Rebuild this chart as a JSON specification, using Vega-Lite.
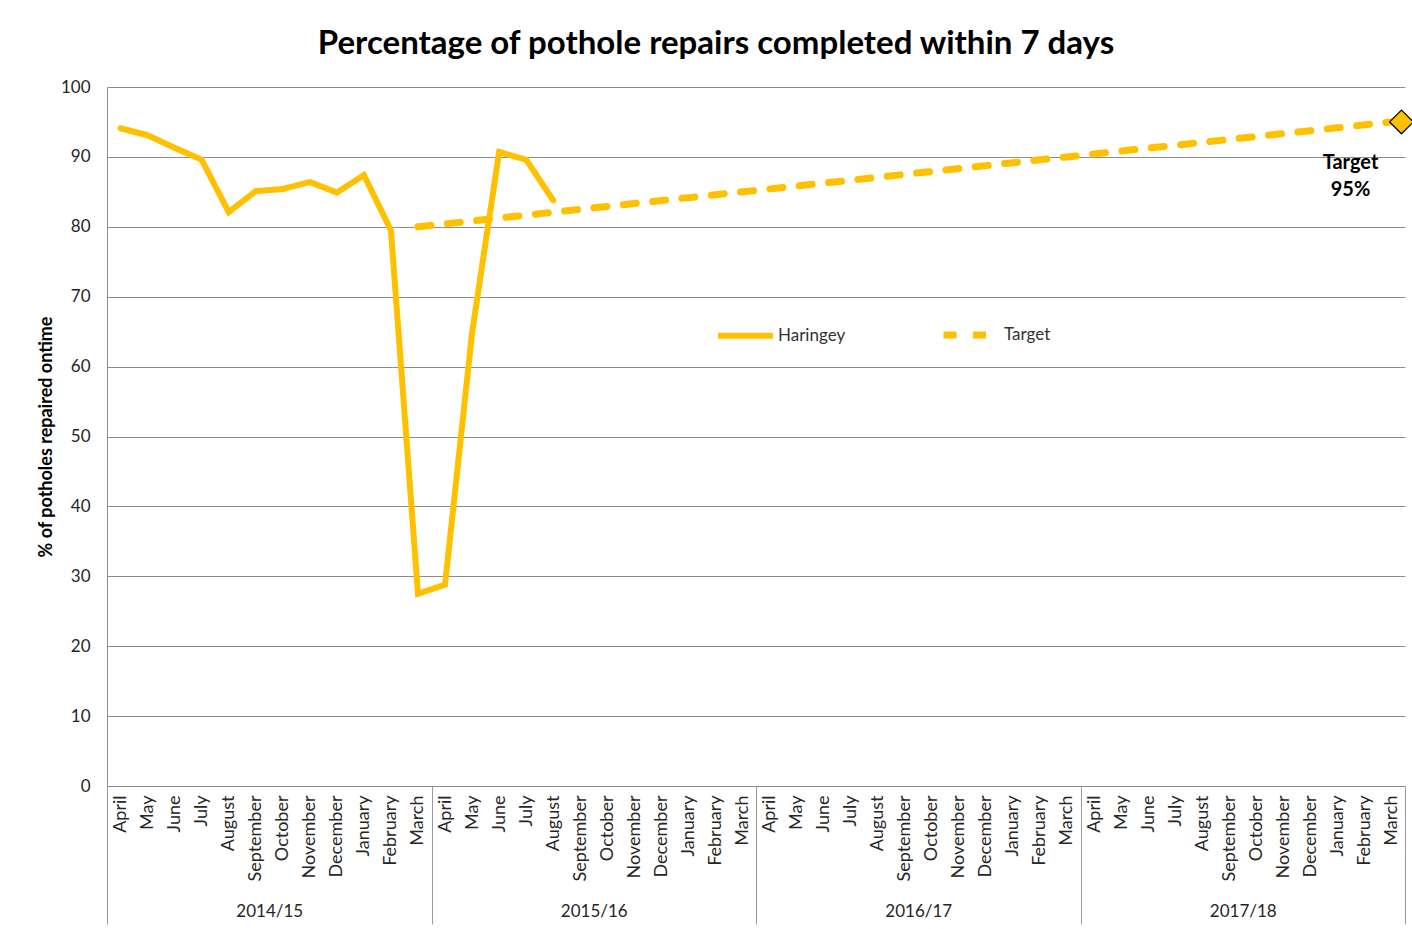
{
  "$schema": "https://vega.github.io/schema/vega-lite/v6.json",
  "width": 1298,
  "height": 699,
  "autosize": {"type": "none"},
  "padding": {"left": 107, "top": 87, "right": 7, "bottom": 143},
  "background": "white",
  "config": {"font": "Lato", "view": {"stroke": null}},
  "title": {
    "text": "Percentage of pothole repairs completed within 7 days",
    "fontSize": 33,
    "fontWeight": "bold",
    "color": "#000000",
    "anchor": "middle",
    "dx": -40,
    "offset": 17
  },
  "datasets": {
    "years": [
      {"year": "2014/15"}, {"year": "2015/16"}, {"year": "2016/17"}, {"year": "2017/18"}
    ],
    "main": [
      {"i": 0, "series": "Haringey", "value": 94.1},
      {"i": 1, "series": "Haringey", "value": 93.1},
      {"i": 2, "series": "Haringey", "value": 91.3},
      {"i": 3, "series": "Haringey", "value": 89.6},
      {"i": 4, "series": "Haringey", "value": 82.1},
      {"i": 5, "series": "Haringey", "value": 85.1},
      {"i": 6, "series": "Haringey", "value": 85.4},
      {"i": 7, "series": "Haringey", "value": 86.4},
      {"i": 8, "series": "Haringey", "value": 84.9},
      {"i": 9, "series": "Haringey", "value": 87.4},
      {"i": 10, "series": "Haringey", "value": 79.5},
      {"i": 11, "series": "Haringey", "value": 27.5},
      {"i": 12, "series": "Haringey", "value": 28.8},
      {"i": 13, "series": "Haringey", "value": 64.8},
      {"i": 14, "series": "Haringey", "value": 90.7},
      {"i": 15, "series": "Haringey", "value": 89.6},
      {"i": 16, "series": "Haringey", "value": 83.8},
      {"i": 11, "series": "Target", "value": 80},
      {"i": 12, "series": "Target", "value": 80.42},
      {"i": 13, "series": "Target", "value": 80.83},
      {"i": 14, "series": "Target", "value": 81.25},
      {"i": 15, "series": "Target", "value": 81.67},
      {"i": 16, "series": "Target", "value": 82.08},
      {"i": 17, "series": "Target", "value": 82.5},
      {"i": 18, "series": "Target", "value": 82.92},
      {"i": 19, "series": "Target", "value": 83.33},
      {"i": 20, "series": "Target", "value": 83.75},
      {"i": 21, "series": "Target", "value": 84.17},
      {"i": 22, "series": "Target", "value": 84.58},
      {"i": 23, "series": "Target", "value": 85},
      {"i": 24, "series": "Target", "value": 85.42},
      {"i": 25, "series": "Target", "value": 85.83},
      {"i": 26, "series": "Target", "value": 86.25},
      {"i": 27, "series": "Target", "value": 86.67},
      {"i": 28, "series": "Target", "value": 87.08},
      {"i": 29, "series": "Target", "value": 87.5},
      {"i": 30, "series": "Target", "value": 87.92},
      {"i": 31, "series": "Target", "value": 88.33},
      {"i": 32, "series": "Target", "value": 88.75},
      {"i": 33, "series": "Target", "value": 89.17},
      {"i": 34, "series": "Target", "value": 89.58},
      {"i": 35, "series": "Target", "value": 90},
      {"i": 36, "series": "Target", "value": 90.42},
      {"i": 37, "series": "Target", "value": 90.83},
      {"i": 38, "series": "Target", "value": 91.25},
      {"i": 39, "series": "Target", "value": 91.67},
      {"i": 40, "series": "Target", "value": 92.08},
      {"i": 41, "series": "Target", "value": 92.5},
      {"i": 42, "series": "Target", "value": 92.92},
      {"i": 43, "series": "Target", "value": 93.33},
      {"i": 44, "series": "Target", "value": 93.75},
      {"i": 45, "series": "Target", "value": 94.17},
      {"i": 46, "series": "Target", "value": 94.58},
      {"i": 47, "series": "Target", "value": 95}
    ]
  },
  "layer": [
    {
      "data": {"name": "years"},
      "mark": {"type": "rect", "opacity": 0},
      "encoding": {
        "x": {
          "field": "year",
          "type": "ordinal",
          "scale": {"paddingInner": 0, "paddingOuter": 0},
          "axis": {
            "orient": "bottom",
            "title": null,
            "domain": false,
            "grid": false,
            "ticks": true,
            "tickBand": "extent",
            "tickSize": 138,
            "tickColor": "#9a9a9a",
            "tickWidth": 1,
            "labelAngle": 0,
            "labelPadding": -21,
            "labelFontSize": 17,
            "labelColor": "#262626"
          }
        }
      }
    },
    {
      "data": {"name": "main"},
      "encoding": {
        "x": {
          "field": "i",
          "type": "ordinal",
          "scale": {"type": "point", "padding": 0.5},
          "axis": {
            "orient": "bottom",
            "title": null,
            "labelExpr": "['April','May','June','July','August','September','October','November','December','January','February','March'][datum.value % 12]",
            "labelAngle": -90,
            "ticks": false,
            "domain": true,
            "domainColor": "#8c8c8c",
            "grid": false,
            "labelPadding": 9,
            "labelFontSize": 18,
            "labelColor": "#262626"
          }
        },
        "y": {
          "field": "value",
          "type": "quantitative",
          "scale": {"domain": [0, 100], "nice": false},
          "axis": {
            "values": [0, 10, 20, 30, 40, 50, 60, 70, 80, 90, 100],
            "grid": true,
            "gridColor": "#8c8c8c",
            "gridWidth": 1,
            "domain": true,
            "domainColor": "#8c8c8c",
            "ticks": false,
            "labelPadding": 17,
            "labelFontSize": 17,
            "labelColor": "#262626",
            "title": "% of potholes repaired ontime",
            "titleFontSize": 18,
            "titleFontWeight": "bold",
            "titleColor": "#000000",
            "titlePadding": 5
          }
        }
      },
      "layer": [
        {
          "mark": {"type": "line", "color": "#FFC000", "strokeCap": "round", "strokeJoin": "miter"},
          "encoding": {
            "detail": {"field": "series", "type": "nominal"},
            "strokeWidth": {
              "field": "series",
              "type": "nominal",
              "scale": {"domain": ["Haringey", "Target"], "range": [6, 7]},
              "legend": null
            },
            "strokeDash": {
              "field": "series",
              "type": "nominal",
              "scale": {"domain": ["Haringey", "Target"], "range": [[1, 0], [13, 16.5]]},
              "legend": {
                "orient": "none",
                "legendX": 608,
                "legendY": 217,
                "direction": "horizontal",
                "title": null,
                "symbolType": "stroke",
                "symbolSize": 3025,
                "symbolStrokeWidth": 6,
                "symbolStrokeColor": "#FFC000",
                "labelFontSize": 17,
                "labelColor": "#333333",
                "labelOffset": 2,
                "columnPadding": 83
              }
            }
          }
        },
        {
          "transform": [{"filter": "datum.series == 'Target' && datum.i == 47"}],
          "mark": {"type": "point", "shape": "diamond", "filled": true, "fill": "#FFC000", "stroke": "#000000", "strokeWidth": 1.2, "size": 560, "opacity": 1, "xOffset": 10}
        },
        {
          "transform": [{"filter": "datum.series == 'Target' && datum.i == 47"}],
          "mark": {"type": "text", "text": ["Target", "95%"], "fontSize": 20, "fontWeight": "bold", "color": "#000000", "align": "center", "baseline": "top", "dx": -41, "dy": 31, "lineHeight": 27}
        }
      ]
    }
  ],
  "resolve": {"scale": {"x": "independent"}, "axis": {"x": "independent"}}
}
